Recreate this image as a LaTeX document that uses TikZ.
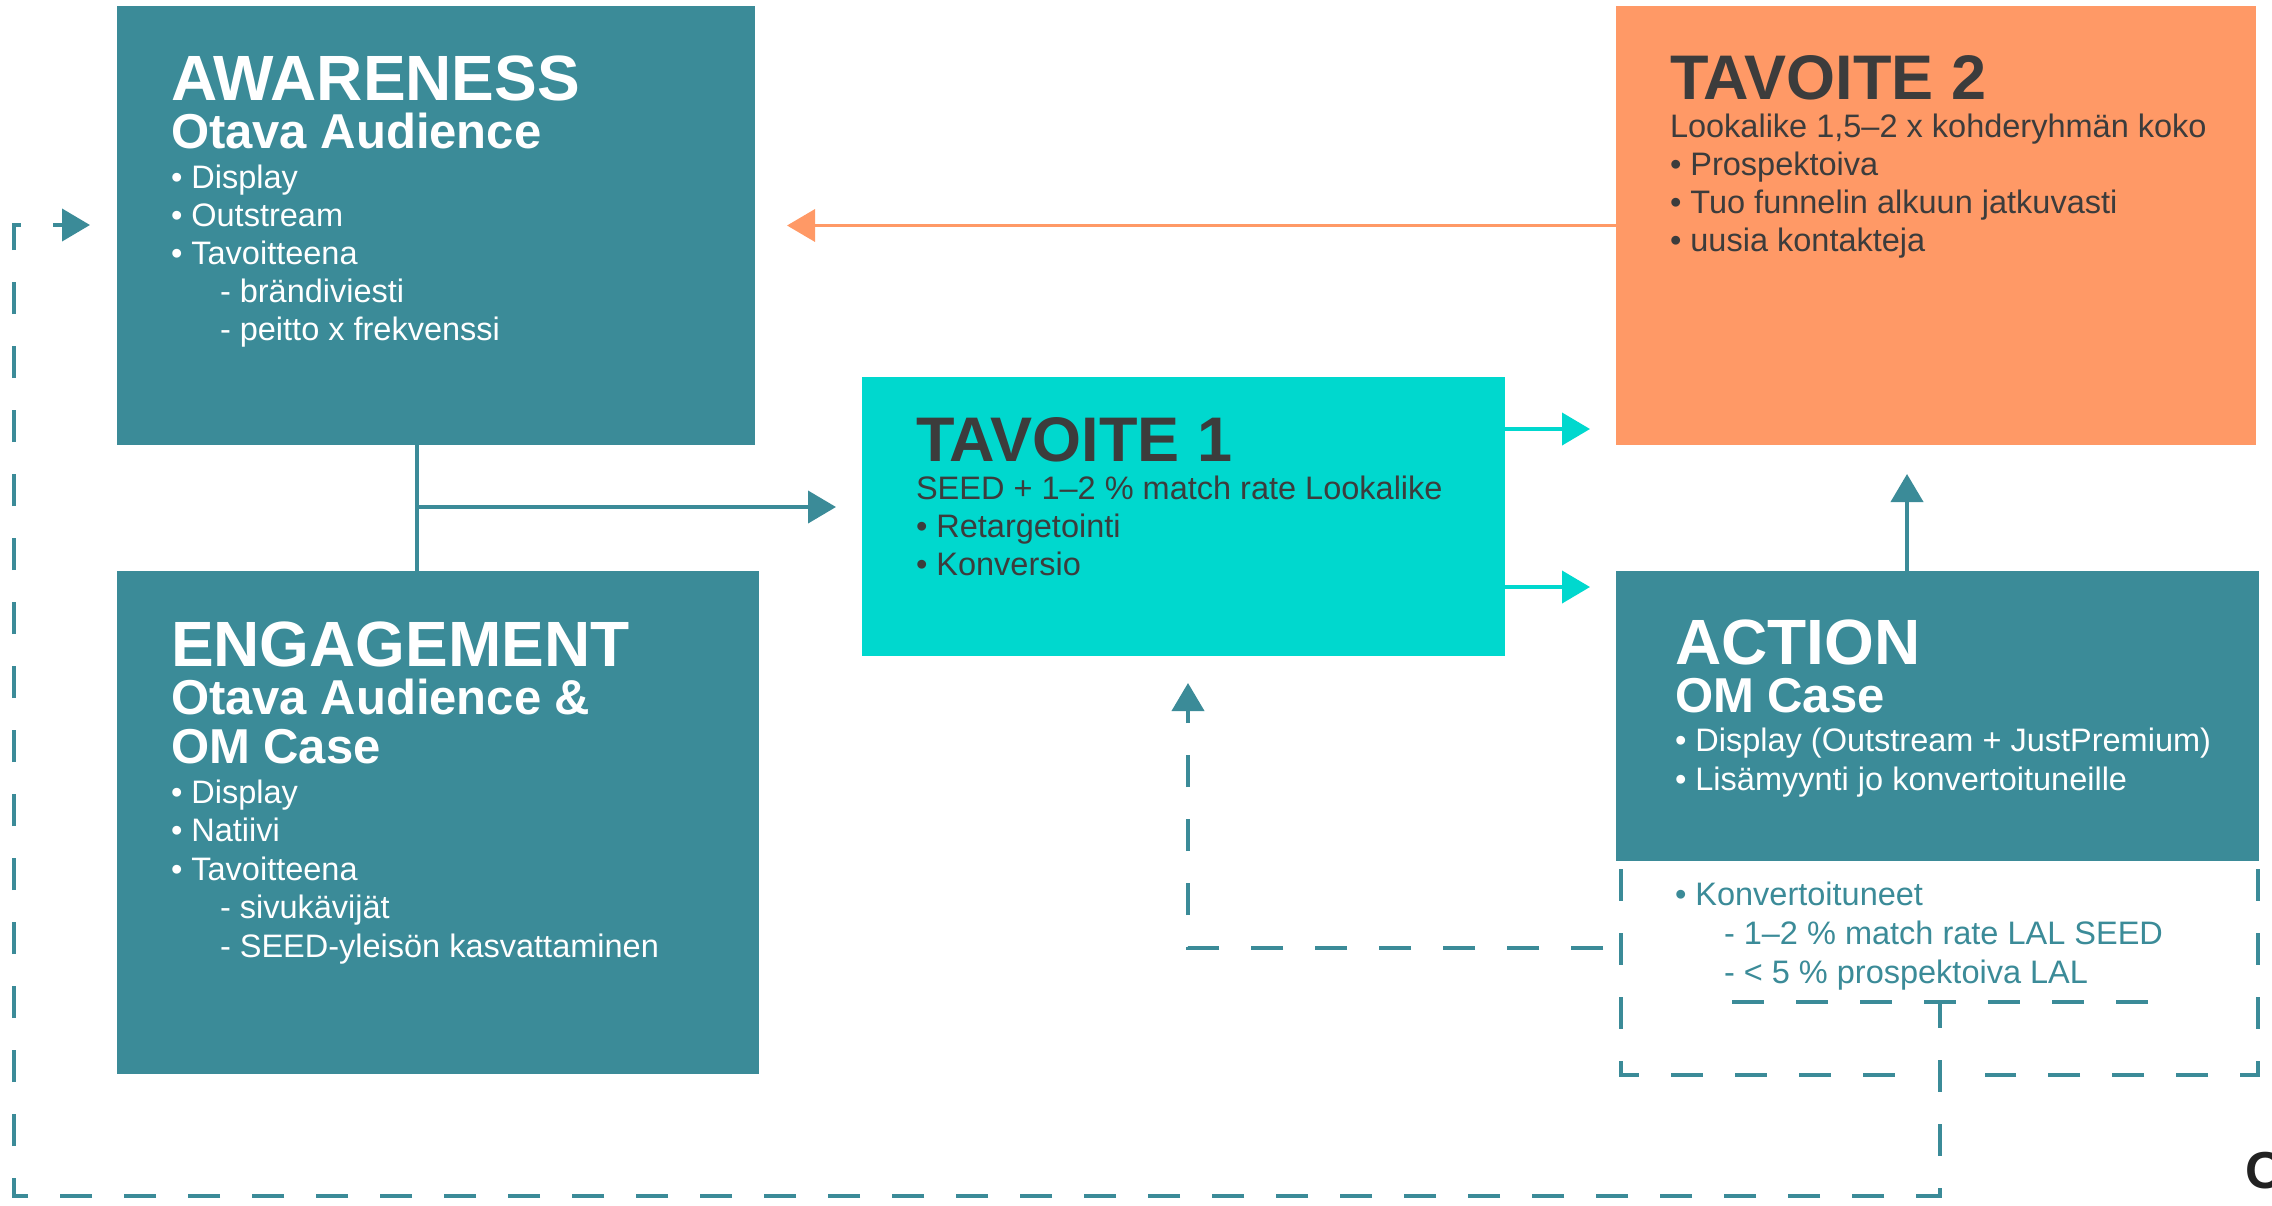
\documentclass[tikz,border=0pt]{standalone}
\usepackage{fontspec}
\setmainfont{Liberation Sans}
\usetikzlibrary{arrows.meta,calc}

\definecolor{petrol}{RGB}{59,139,152}
\definecolor{aqua}{RGB}{0,216,206}
\definecolor{peach}{RGB}{255,153,102}
\definecolor{ink}{RGB}{60,60,60}
\definecolor{logoink}{RGB}{34,34,34}

% one line of a text block: size, distance from the previous baseline, content
\newcommand\Ln[3]{{\fontsize{#1}{#2}\selectfont #3\par}}
\newcommand\Sub{\hspace*{49pt}}
\newcommand\Block[1]{\parbox[t]{900pt}{\lineskiplimit=-1000pt\parindent=0pt #1}}

\tikzset{
  block/.style={draw=none, inner sep=0, outer sep=0, anchor=north west},
  txt/.style={anchor=base west, inner sep=0, outer sep=0},
  link/.style={line width=4pt, draw=petrol},
  tipped/.style={-{Triangle[length=28pt,width=32pt]}},
  dashlink/.style={link, dash pattern=on 32pt off 32pt},
}

\begin{document}
\begin{tikzpicture}[x=1pt,y=-1pt]
  \useasboundingbox (0,0) rectangle (2272,1205);
  \fill[white] (0,0) rectangle (2272,1205);

  % boxes
  \node[block, fill=petrol, minimum width=638pt, minimum height=439pt] (aw) at (117,6) {};
  \node[block, fill=peach,  minimum width=640pt, minimum height=439pt] (t2) at (1616,6) {};
  \node[block, fill=aqua,   minimum width=643pt, minimum height=279pt] (t1) at (862,377) {};
  \node[block, fill=petrol, minimum width=642pt, minimum height=503pt] (en) at (117,571) {};
  \node[block, fill=petrol, minimum width=643pt, minimum height=290pt] (ac) at (1616,571) {};

  % texts
  \node[txt, text=white] (awtext) at (171,100) {\Block{%
    \Ln{64}{0}{\bfseries AWARENESS}
    \Ln{49}{48}{\bfseries Otava Audience}
    \Ln{32.5}{40}{• Display}
    \Ln{32.5}{38}{• Outstream}
    \Ln{32.5}{38}{• Tavoitteena}
    \Ln{32.5}{38.5}{\Sub- brändiviesti}
    \Ln{32.5}{38}{\Sub- peitto x frekvenssi}}};

  \node[txt, text=white] (entext) at (171,666) {\Block{%
    \Ln{64}{0}{\bfseries ENGAGEMENT}
    \Ln{49}{48}{\bfseries Otava Audience \&}
    \Ln{49}{49}{\bfseries OM Case}
    \Ln{32.5}{40}{• Display}
    \Ln{32.5}{38.5}{• Natiivi}
    \Ln{32.5}{38.5}{• Tavoitteena}
    \Ln{32.5}{38.5}{\Sub- sivukävijät}
    \Ln{32.5}{38.5}{\Sub- SEED-yleisön kasvattaminen}}};

  \node[txt, text=ink] (t1text) at (916,461) {\Block{%
    \Ln{63}{0}{\bfseries TAVOITE 1}
    \Ln{32.5}{38}{SEED + 1–2 \% match rate Lookalike}
    \Ln{32.5}{38}{• Retargetointi}
    \Ln{32.5}{38.5}{• Konversio}}};

  \node[txt, text=ink] (t2text) at (1670,99) {\Block{%
    \Ln{63}{0}{\bfseries TAVOITE 2}
    \Ln{32.5}{38}{Lookalike 1,5–2 x kohderyhmän koko}
    \Ln{32.5}{38}{• Prospektoiva}
    \Ln{32.5}{38}{• Tuo funnelin alkuun jatkuvasti}
    \Ln{32.5}{38}{• uusia kontakteja}}};

  \node[txt, text=white] (actext) at (1675,664) {\Block{%
    \Ln{64}{0}{\bfseries ACTION}
    \Ln{49}{48}{\bfseries OM Case}
    \Ln{32.5}{39}{• Display (Outstream + JustPremium)}
    \Ln{32.5}{39}{• Lisämyynti jo konvertoituneille}}};

  \node[txt, text=petrol] (kvtext) at (1675,905) {\Block{%
    \Ln{32.5}{0}{• Konvertoituneet}
    \Ln{32.5}{39}{\Sub- 1–2 \% match rate LAL SEED}
    \Ln{32.5}{39}{\Sub- < 5 \% prospektoiva LAL}}};

  % logo glyph cut by the right edge
  \node[txt, text=logoink] (logo) at (2245,1188) {\fontsize{52}{52}\selectfont\bfseries O};

  % solid connectors
  \coordinate (split) at (417,507);
  \draw[link] (split |- aw.south) -- (split |- en.north);
  \draw[link, tipped, shorten >=26pt] (split) -- (split -| t1.west);

  \draw[line width=3.5pt, draw=peach, fill=peach, tipped, shorten >=32pt]
    (t2.west) -- (aw.east);

  \coordinate (cyA) at (1505,429);
  \coordinate (cyB) at (1505,587);
  \draw[line width=4pt, draw=aqua, tipped, shorten >=26pt] (cyA) -- (cyA -| t2.west);
  \draw[line width=4pt, draw=aqua, tipped, shorten >=26pt] (cyB) -- (cyB -| ac.west);

  \coordinate (up) at (1907,571);
  \draw[link, tipped, shorten >=29pt] (up) -- (up |- t2.south);

  % dashed frame under ACTION, drawn from both upper ends toward the middle
  \coordinate (frL) at (1621,869);
  \coordinate (frR) at (2258,869);
  \draw[dashlink] (frL) -- (1621,1075) -- (1895,1075);
  \draw[dashlink] (frR) -- (2258,1075) -- (1985,1075);
  \draw[dashlink] (1732,1002) -- (2148,1002);

  % dashed feedback to TAVOITE 1
  \coordinate (fb) at (1188,948);
  \draw[dashlink, tipped, shorten >=27pt] (1603,948) -- (fb) -- (fb |- t1.south);

  % dashed loop back to AWARENESS
  \coordinate (tee) at (1940,1002);
  \coordinate (loopA) at (1940,1196);
  \coordinate (loopB) at (14,1196);
  \coordinate (loopC) at (14,225);
  \draw[dashlink, dash phase=6pt, tipped, shorten >=27pt]
    (tee) -- (loopA) -- (loopB) -- (loopC) -- (loopC -| aw.west);
\end{tikzpicture}
\end{document}
